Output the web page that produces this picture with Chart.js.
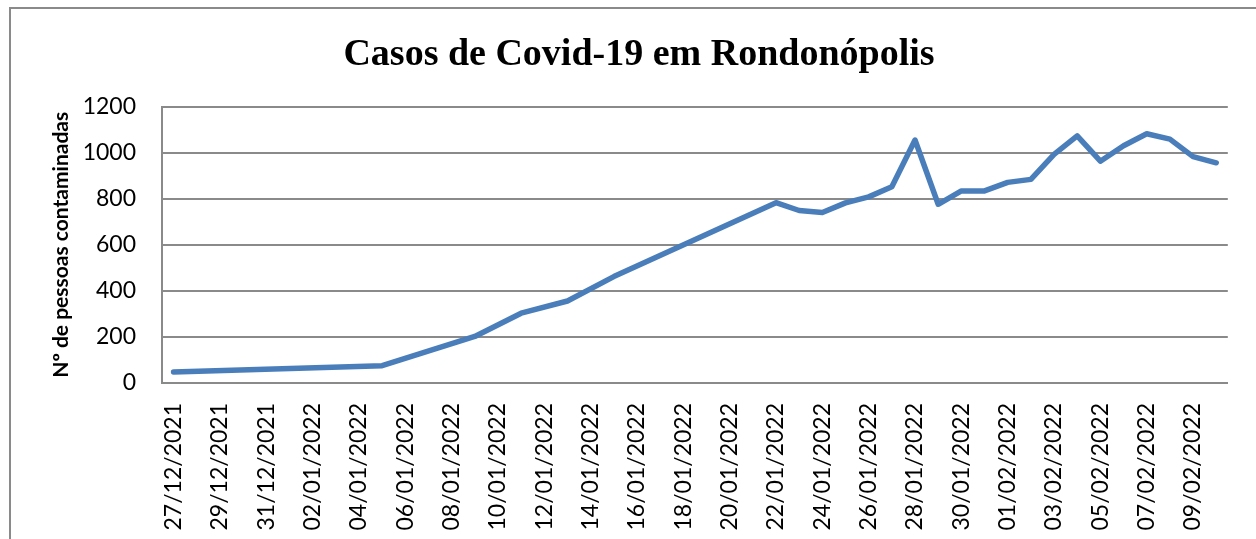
<!DOCTYPE html>
<html>
<head>
<meta charset="utf-8">
<script src="https://cdn.jsdelivr.net/npm/chart.js@4"></script>
<style>
body { margin: 0; background: #fff; }
#wrap { width: 1256px; height: 539px; }
</style>
</head>
<body>
<div id="wrap"><canvas id="covidChart" width="1256" height="539"></canvas></div>
<script>
const chartTitle = "Casos de Covid-19 em Rondonópolis"
const yTitle = "Nº de pessoas contaminadas"

const dates = [
"27/12/2021","28/12/2021","29/12/2021","30/12/2021","31/12/2021",
"01/01/2022","02/01/2022","03/01/2022","04/01/2022","05/01/2022",
"06/01/2022","07/01/2022","08/01/2022","09/01/2022","10/01/2022",
"11/01/2022","12/01/2022","13/01/2022","14/01/2022","15/01/2022",
"16/01/2022","17/01/2022","18/01/2022","19/01/2022","20/01/2022",
"21/01/2022","22/01/2022","23/01/2022","24/01/2022","25/01/2022",
"26/01/2022","27/01/2022","28/01/2022","29/01/2022","30/01/2022",
"31/01/2022","01/02/2022","02/02/2022","03/02/2022","04/02/2022",
"05/02/2022","06/02/2022","07/02/2022","08/02/2022","09/02/2022",
"10/02/2022"
]

// days without a report stay null, the line just joins the known days
const cases = [
48,null,null,null,null,
null,null,null,null,75,
null,null,null,202,null,
303,null,356,null,462,
null,null,null,null,null,
null,783,749,740,782,
808,852,1055,776,834,
834,871,884,993,1073,
963,1030,1082,1059,983,
956
]

const yTicks = [0,200,400,600,800,1000,1200]

const gridGray = "#8a8a8a"
const labelFont = "Lato, 'Open Sans', sans-serif"

// grey frame round the whole chart, like the excel chart area
const framePlugin = {
    id: "frame",
    beforeDraw(chart){
        const ctx = chart.ctx
        ctx.save()
        ctx.fillStyle = "#fff"
        ctx.fillRect(0,0,chart.width,chart.height)
        ctx.strokeStyle = gridGray
        ctx.lineWidth = 2
        ctx.strokeRect(10,8,chart.width+20,chart.height+20)
        ctx.restore()
    }
}

const ctx = document.getElementById("covidChart").getContext("2d")

const chart = new Chart(ctx, {
    type: "line",
    data: {
        labels: dates,
        datasets: [{
            label: yTitle,
            data: cases,
            borderColor: "#4a7ebb",
            borderWidth: 5.5,
            pointRadius: 0,
            spanGaps: true,
            tension: 0,
            borderJoinStyle: "round",
            borderCapStyle: "round"
        }]
    },
    plugins: [framePlugin],
    options: {
        responsive: false,
        animation: false,
        // left padding pushes the title centre to the right, like the original
        layout: { padding: { left: 38, right: 16, top: 0, bottom: 0 } },
        plugins: {
            legend: { display: false },
            tooltip: { enabled: false },
            title: {
                display: true,
                text: chartTitle,
                color: "#000",
                font: { family: "'Liberation Serif', 'Times New Roman', serif", size: 38, weight: "bold", lineHeight: 1.2 },
                padding: { top: 32, bottom: 29 }
            }
        },
        scales: {
            x: {
                offset: true,
                grid: { display: false },
                border: { display: true, color: gridGray, width: 2 },
                ticks: {
                    autoSkip: false,
                    maxRotation: 90,
                    minRotation: 90,
                    padding: 12,
                    color: "#000",
                    font: { family: labelFont, size: 23 },
                    callback: function(value, index){
                        return index % 2 == 0 ? dates[index] : ""
                    }
                },
                afterFit(scale){ scale.height = 156 }
            },
            y: {
                min: 0,
                max: 1200,
                afterBuildTicks(scale){ scale.ticks = yTicks.map(v => ({value: v})) },
                grid: { color: gridGray, lineWidth: 2, drawTicks: false },
                border: { display: true, color: gridGray, width: 2 },
                ticks: {
                    padding: 26,
                    color: "#000",
                    font: { family: labelFont, size: 23 },
                    callback: function(value){ return String(value) }
                },
                title: {
                    display: true,
                    text: yTitle,
                    color: "#000",
                    font: { family: labelFont, size: 21, weight: "bold", lineHeight: 1.2 },
                    padding: { top: 11, bottom: 0 }
                },
                afterFit(scale){ scale.width = 124 }
            }
        }
    }
})
</script>
</body>
</html>
